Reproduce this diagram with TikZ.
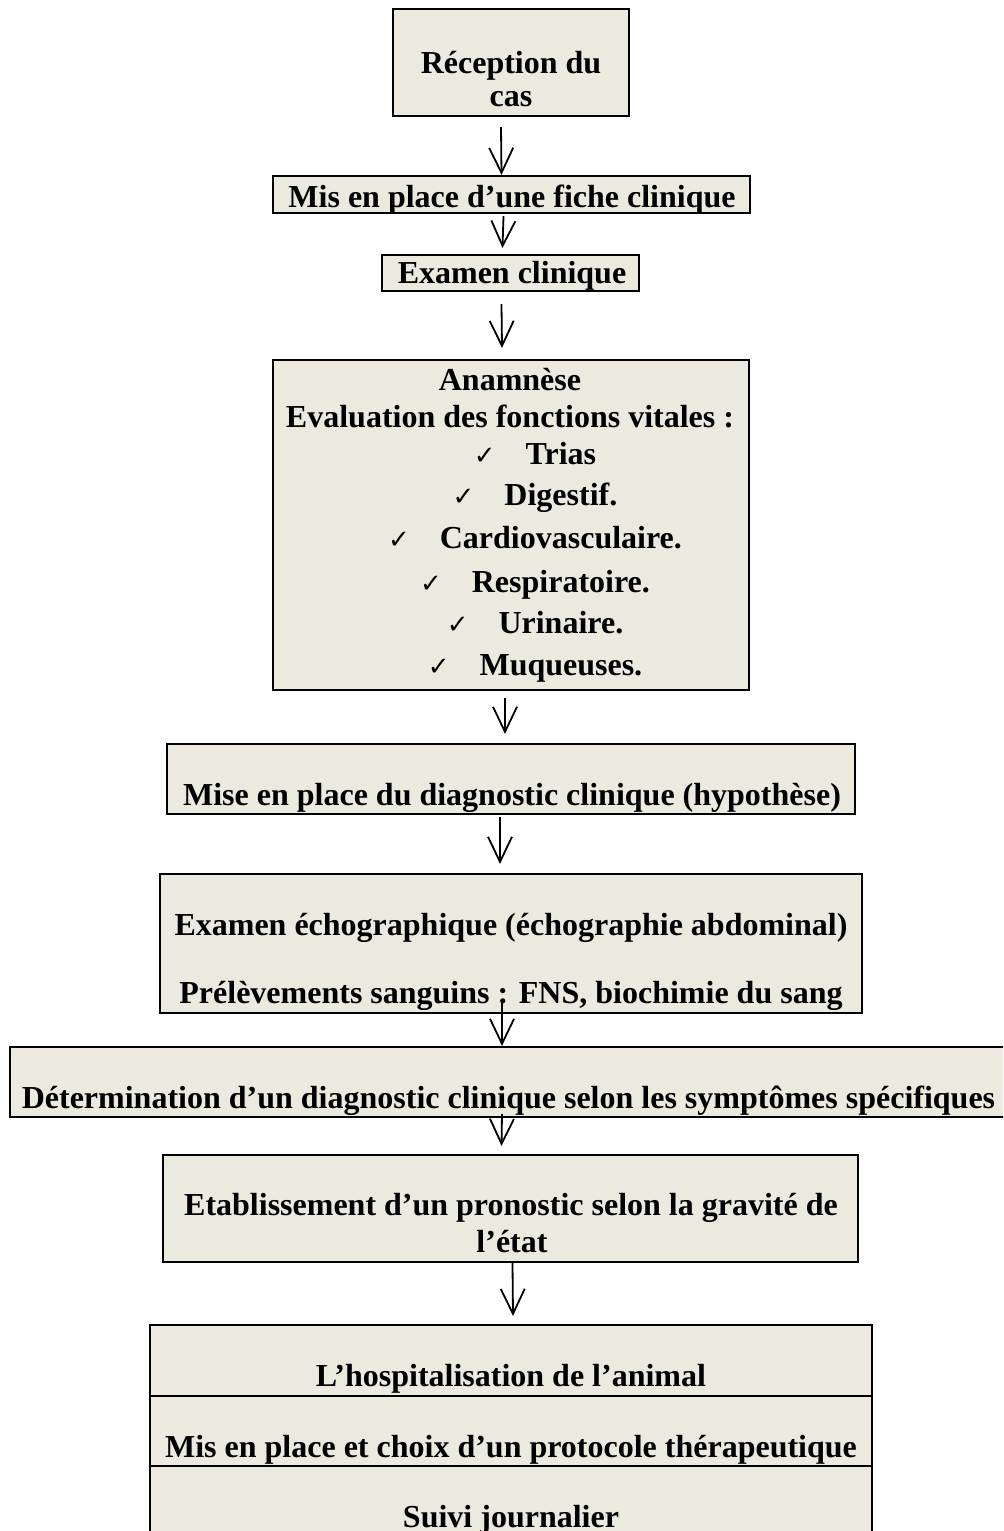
\documentclass[tikz,border=0pt]{standalone}
\usepackage{fontspec}
\setmainfont{Liberation Serif}
\newfontfamily\symfont{DejaVu Sans}
\usetikzlibrary{arrows.meta}
\definecolor{boxfill}{RGB}{236,233,223}
\tikzstyle{arrow} = [line width=0.9pt,-{Straight Barb[length=12.5pt,width=12pt]}]
\tikzstyle{box} = [draw,line width=1.1pt,fill=boxfill,rectangle,inner sep=0pt]
\tikzstyle{txt} = [anchor=base,inner sep=0pt,font=\fontsize{16}{18}\selectfont\bfseries]

\begin{document}
\begin{tikzpicture}[x=0.5pt,y=-0.5pt]
\useasboundingbox (0,0) rectangle (1003,1531);
\clip (0,0) rectangle (1003,1531);

% boxes
\node[box,minimum width=118pt,minimum height=53.5pt] (recep) at (511,62.5) {};
\node[box,minimum width=238.5pt,minimum height=18.5pt] (fiche) at (511.5,194.5) {};
\node[box,minimum width=128.5pt,minimum height=18pt] (examen) at (510.5,273) {};
\node[box,minimum width=238pt,minimum height=165pt] (anam) at (511,525) {};
\node[box,minimum width=344pt,minimum height=35pt] (hypo) at (511,779) {};
\node[box,minimum width=351pt,minimum height=69.5pt] (echo) at (511,943.5) {};
\node[box,minimum width=520pt,minimum height=35pt] (determ) at (530,1082) {};
\node[box,minimum width=347.5pt,minimum height=53.5pt] (prono) at (510.5,1208.5) {};
\node[box,minimum width=361pt,minimum height=35.5pt] (hospit) at (511,1360.5) {};
\node[box,minimum width=361pt,minimum height=35pt] (proto) at (511,1431) {};
\node[box,minimum width=361pt,minimum height=37pt] (suivi) at (511,1503) {};

% texts
\node[txt] (recep1) at (511,73) {Réception du};
\node[txt] (recep2) at (511,106) {cas};
\node[txt] (fiche1) at (512,207) {Mis en place d’une fiche clinique};
\node[txt] (examen1) at (512,283) {Examen clinique};
\node[txt] (anam1) at (510,390) {Anamnèse};
\node[txt] (anam2) at (510,427) {Evaluation des fonctions vitales :};
\foreach \yy/\fn in {464/Trias, 505/Digestif., 548/Cardiovasculaire., 592/Respiratoire., 633/Urinaire., 675/Muqueuses.}
{
\node[txt] (vital\yy) at (535,\yy) {{\symfont\mdseries\fontsize{13}{13}\selectfont ✓}\hspace{15pt}\fn};
}
\node[txt] (hypo1) at (512,805) {Mise en place du diagnostic clinique (hypothèse)};
\node[txt] (echo1) at (511,935) {Examen échographique (échographie abdominal)};
\node[txt] (echo2) at (511,1003) {Prélèvements sanguins : FNS, biochimie du sang};
\node[txt] (determ1) at (508.5,1108) {Détermination d’un diagnostic clinique selon les symptômes spécifiques};
\node[txt] (prono1) at (511,1215) {Etablissement d’un pronostic selon la gravité de};
\node[txt] (prono2) at (512,1252) {l’état};
\node[txt] (hospit1) at (511,1386) {L’hospitalisation de l’animal};
\node[txt] (proto1) at (511,1457) {Mis en place et choix d’un protocole thérapeutique};
\node[txt] (suivi1) at (511,1527) {Suivi journalier};

% arrows
\draw[arrow] ([xshift=-5pt,yshift=-5pt]recep.south) -- ([xshift=-5pt]fiche.north);
\draw[arrow] ([xshift=-4pt,yshift=-1pt]fiche.south) -- ([xshift=-4pt,yshift=3pt]examen.north);
\draw[arrow] ([xshift=-4.5pt,yshift=-6pt]examen.south) -- ([xshift=-4.5pt,yshift=5.5pt]anam.north);
\draw[arrow] ([xshift=-3pt,yshift=-3.5pt]anam.south) -- ([xshift=-3pt,yshift=4.5pt]hypo.north);
\draw[arrow] ([xshift=-5.5pt,yshift=-1pt]hypo.south) -- ([xshift=-5.5pt,yshift=4.5pt]echo.north);
\draw[arrow] ([xshift=-4.5pt,yshift=6.5pt]echo.south) -- ([xshift=-14pt]determ.north);
\draw[arrow] ([xshift=-14pt,yshift=2pt]determ.south) -- ([xshift=-4.5pt,yshift=4pt]prono.north);
\draw[arrow] ([xshift=1pt]prono.south) -- ([xshift=1pt,yshift=4pt]hospit.north);
\end{tikzpicture}
\end{document}
